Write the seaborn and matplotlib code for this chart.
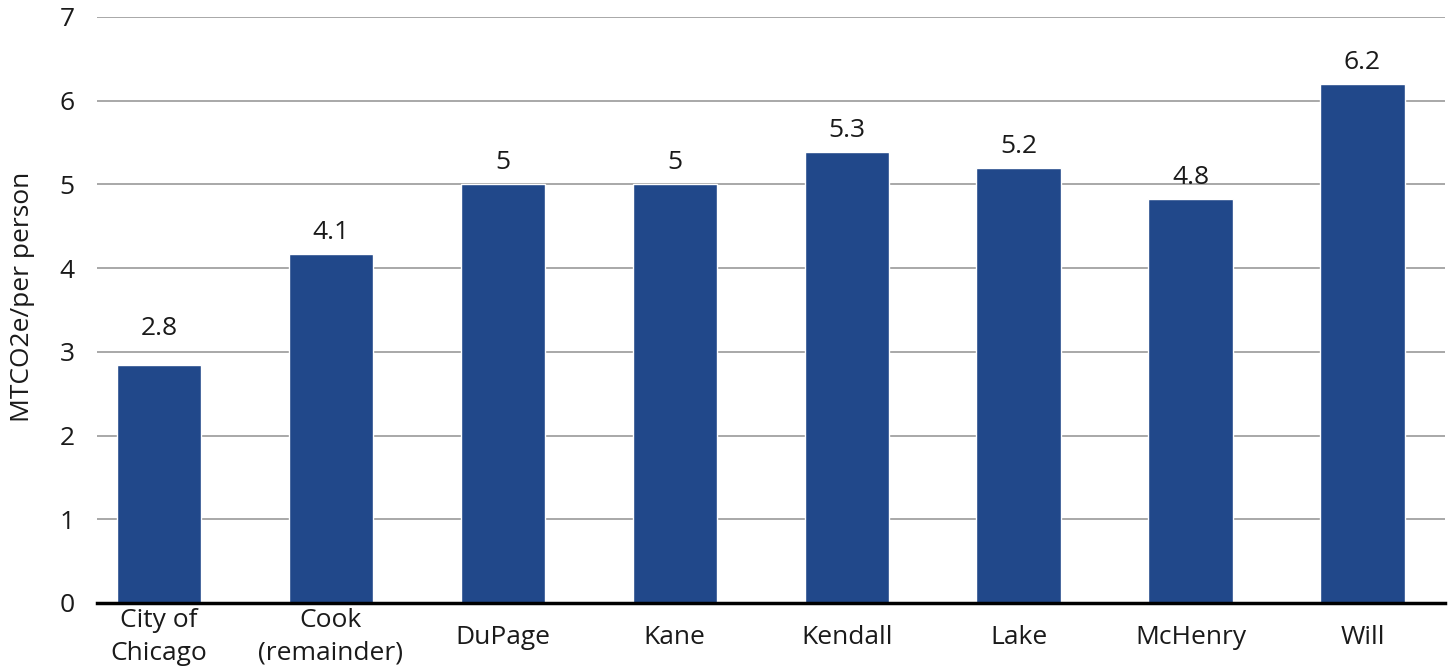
import matplotlib
matplotlib.use("Agg")
import matplotlib.pyplot as plt
import seaborn as sns
import pandas as pd

categories = ["City of\nChicago", "Cook\n(remainder)", "DuPage", "Kane", "Kendall", "Lake", "McHenry", "Will"]
values = [2.84, 4.17, 5.0, 5.0, 5.39, 5.2, 4.83, 6.2]
value_labels = ["2.8", "4.1", "5", "5", "5.3", "5.2", "4.8", "6.2"]
y_ticks = [0, 1, 2, 3, 4, 5, 6, 7]

sns.set_theme(style="white")
plt.rcParams['font.family'] = ['Open Sans', 'DejaVu Sans']

df = pd.DataFrame({"cat": categories, "val": values})
FS = 19
TXT = "#1a1a1a"

fig = plt.figure(figsize=(14.5, 6.71), dpi=100)
ax = fig.add_axes([97/1450, 1 - 603/671, (1445-97)/1450, (603-17)/671])
ax.set_axisbelow(True)
ax.yaxis.grid(True, color="#9a9a9a", linewidth=1.2)
sns.barplot(data=df, x="cat", y="val", color="#21488A", width=0.49, saturation=1, ax=ax)
for i, (v, lab) in enumerate(zip(values, value_labels)):
    off = 0.36 if i == 0 else 0.18
    ax.text(i, v + off, lab, ha="center", va="baseline", fontsize=FS, color=TXT)

ax.set_ylim(0, 7)
ax.set_xlim(-0.36, 7.48)
ax.set_yticks(y_ticks)
ax.set_yticklabels([str(t) for t in y_ticks], fontsize=FS, color=TXT)
ax.tick_params(axis="x", labelsize=FS, colors=TXT, length=0, pad=24.5)
ax.tick_params(axis="y", length=0, pad=16)
ax.set_xlabel("")
ax.set_ylabel("MTCO2e/per person", fontsize=FS, color=TXT)
ax.yaxis.set_label_coords(-0.046, 0.522)
for s in ["top", "right", "left"]:
    ax.spines[s].set_visible(False)
ax.spines["bottom"].set_color("black")
ax.spines["bottom"].set_linewidth(2.5)
for lab in ax.get_xticklabels():
    lab.set_linespacing(1.4)
    lab.set_verticalalignment("center")

fig.savefig("out.png", dpi=100)
